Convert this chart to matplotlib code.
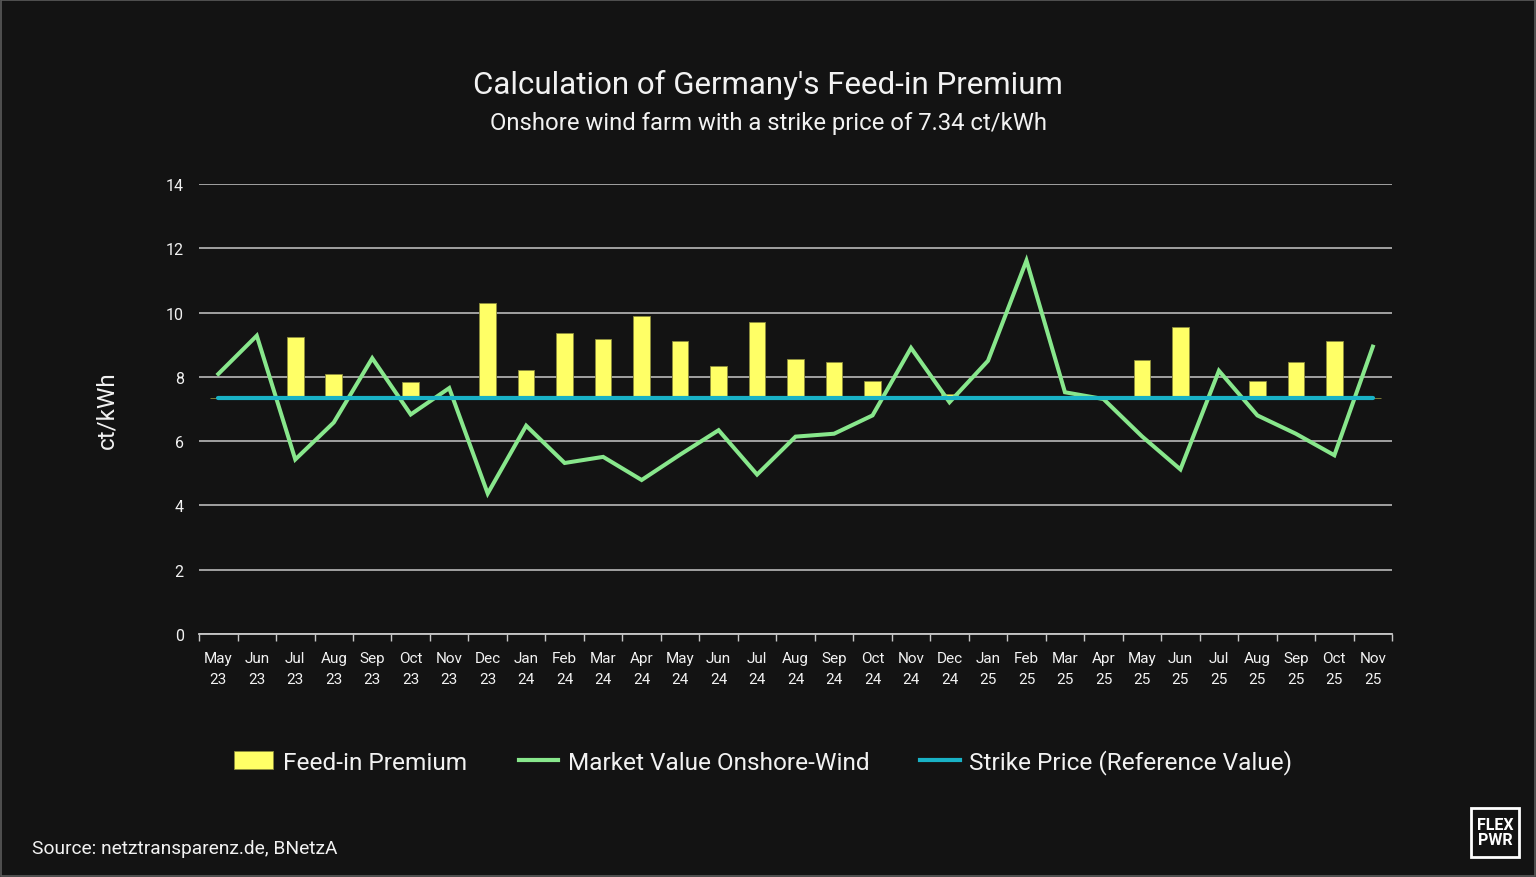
import numpy as np
import matplotlib.pyplot as plt
from matplotlib.patches import Patch, Rectangle
from matplotlib.lines import Line2D

plt.rcParams['font.family'] = ['Roboto', 'DejaVu Sans']

# data
months = ["May\n23", "Jun\n23", "Jul\n23", "Aug\n23", "Sep\n23", "Oct\n23", "Nov\n23",
          "Dec\n23", "Jan\n24", "Feb\n24", "Mar\n24", "Apr\n24", "May\n24", "Jun\n24",
          "Jul\n24", "Aug\n24", "Sep\n24", "Oct\n24", "Nov\n24", "Dec\n24", "Jan\n25",
          "Feb\n25", "Mar\n25", "Apr\n25", "May\n25", "Jun\n25", "Jul\n25", "Aug\n25",
          "Sep\n25", "Oct\n25", "Nov\n25"]
market_value = [8.09, 9.28, 5.43, 6.58, 8.58, 6.83, 7.65,
                4.37, 6.48, 5.32, 5.51, 4.79, 5.58, 6.34,
                4.96, 6.14, 6.23, 6.80, 8.90, 7.21, 8.50,
                11.62, 7.52, 7.31, 6.15, 5.12, 8.19, 6.80,
                6.23, 5.56, 8.94]
premium = [0, 0, 1.91, 0.76, 0, 0.51, 0,
           2.97, 0.86, 2.02, 1.83, 2.55, 1.76, 1.00,
           2.38, 1.20, 1.11, 0.54, 0, 0.13, 0,
           0, 0, 0.03, 1.19, 2.22, 0, 0.54,
           1.11, 1.78, 0]
strike = 7.34

bg = '#131313'
txt = '#f2f2f2'
x = np.arange(len(months))

fig = plt.figure(figsize=(15.36, 8.78), dpi=100, facecolor=bg)
ax = fig.add_axes([0.1296, 0.2768, 0.7767, 0.5125])
ax.set_facecolor(bg)

ax.set_ylim(0, 14)
ax.set_xlim(-0.5, len(months) - 0.5)
ax.set_yticks(range(0, 15, 2))
ax.yaxis.grid(True, color='#c8c8c8', lw=1.1)
ax.set_axisbelow(True)

ax.bar(x, premium, bottom=strike, width=0.43, color='#ffff66', edgecolor='#8c8c3c', lw=0.6, zorder=2)
ax.plot(x, market_value, color='#88e78c', lw=2.9, zorder=3, solid_joinstyle='miter')
ax.plot(x, [strike] * len(x), color='#19b2c6', lw=3.0, zorder=4, solid_capstyle='round')

for s in ['top', 'right', 'left']:
    ax.spines[s].set_visible(False)
ax.spines['bottom'].set_color('#c8c8c8')
ax.spines['bottom'].set_linewidth(1.3)

ax.set_xticks(x)
ax.set_xticklabels(months, fontsize=11, color=txt, linespacing=1.65)
ax.set_xticks(np.arange(-0.5, len(months)), minor=True)
ax.tick_params(axis='x', which='major', length=0, pad=12)
ax.tick_params(axis='x', which='minor', length=5, color='#c8c8c8', width=1)
ax.tick_params(axis='y', length=0, labelsize=11.5, labelcolor=txt, pad=11)

ax.set_ylabel('ct/kWh', fontsize=17.5, color=txt, labelpad=34)

fig.text(0.5, 0.903, "Calculation of Germany's Feed-in Premium", ha='center', va='center',
         fontsize=22.5, color=txt)
fig.text(0.5, 0.859, "Onshore wind farm with a strike price of 7.34 ct/kWh", ha='center', va='center',
         fontsize=17.2, color=txt)

handles = [Patch(facecolor='#ffff66', edgecolor='#8c8c3c', lw=0.6),
           Line2D([], [], color='#88e78c', lw=3),
           Line2D([], [], color='#19b2c6', lw=3)]
labels = ['Feed-in Premium', 'Market Value Onshore-Wind', 'Strike Price (Reference Value)']
fig.legend(handles, labels, loc='center', bbox_to_anchor=(0.497, 0.131), ncol=3, frameon=False,
           fontsize=17.6, labelcolor=txt, handlelength=1.6, handleheight=0.75, handletextpad=0.4,
           columnspacing=2.1)

fig.text(0.021, 0.033, 'Source: netztransparenz.de, BNetzA', ha='left', va='center',
         fontsize=13.8, color=txt)

# logo
fig.patches.append(Rectangle((0.9577, 0.0228), 0.0313, 0.0558, transform=fig.transFigure,
                             facecolor='none', edgecolor='white', lw=2))
fig.text(0.9733, 0.0507, 'FLEX\nPWR', ha='center', va='center', fontsize=11.5,
         fontweight='bold', color='white', linespacing=1.0)

# thin frame round the picture
fig.patches.append(Rectangle((0.0005, 0.0007), 0.999, 0.9986, transform=fig.transFigure,
                             facecolor='none', edgecolor='#5a5a5a', lw=1.2))

fig.savefig('out.png', dpi=100, facecolor=bg)
